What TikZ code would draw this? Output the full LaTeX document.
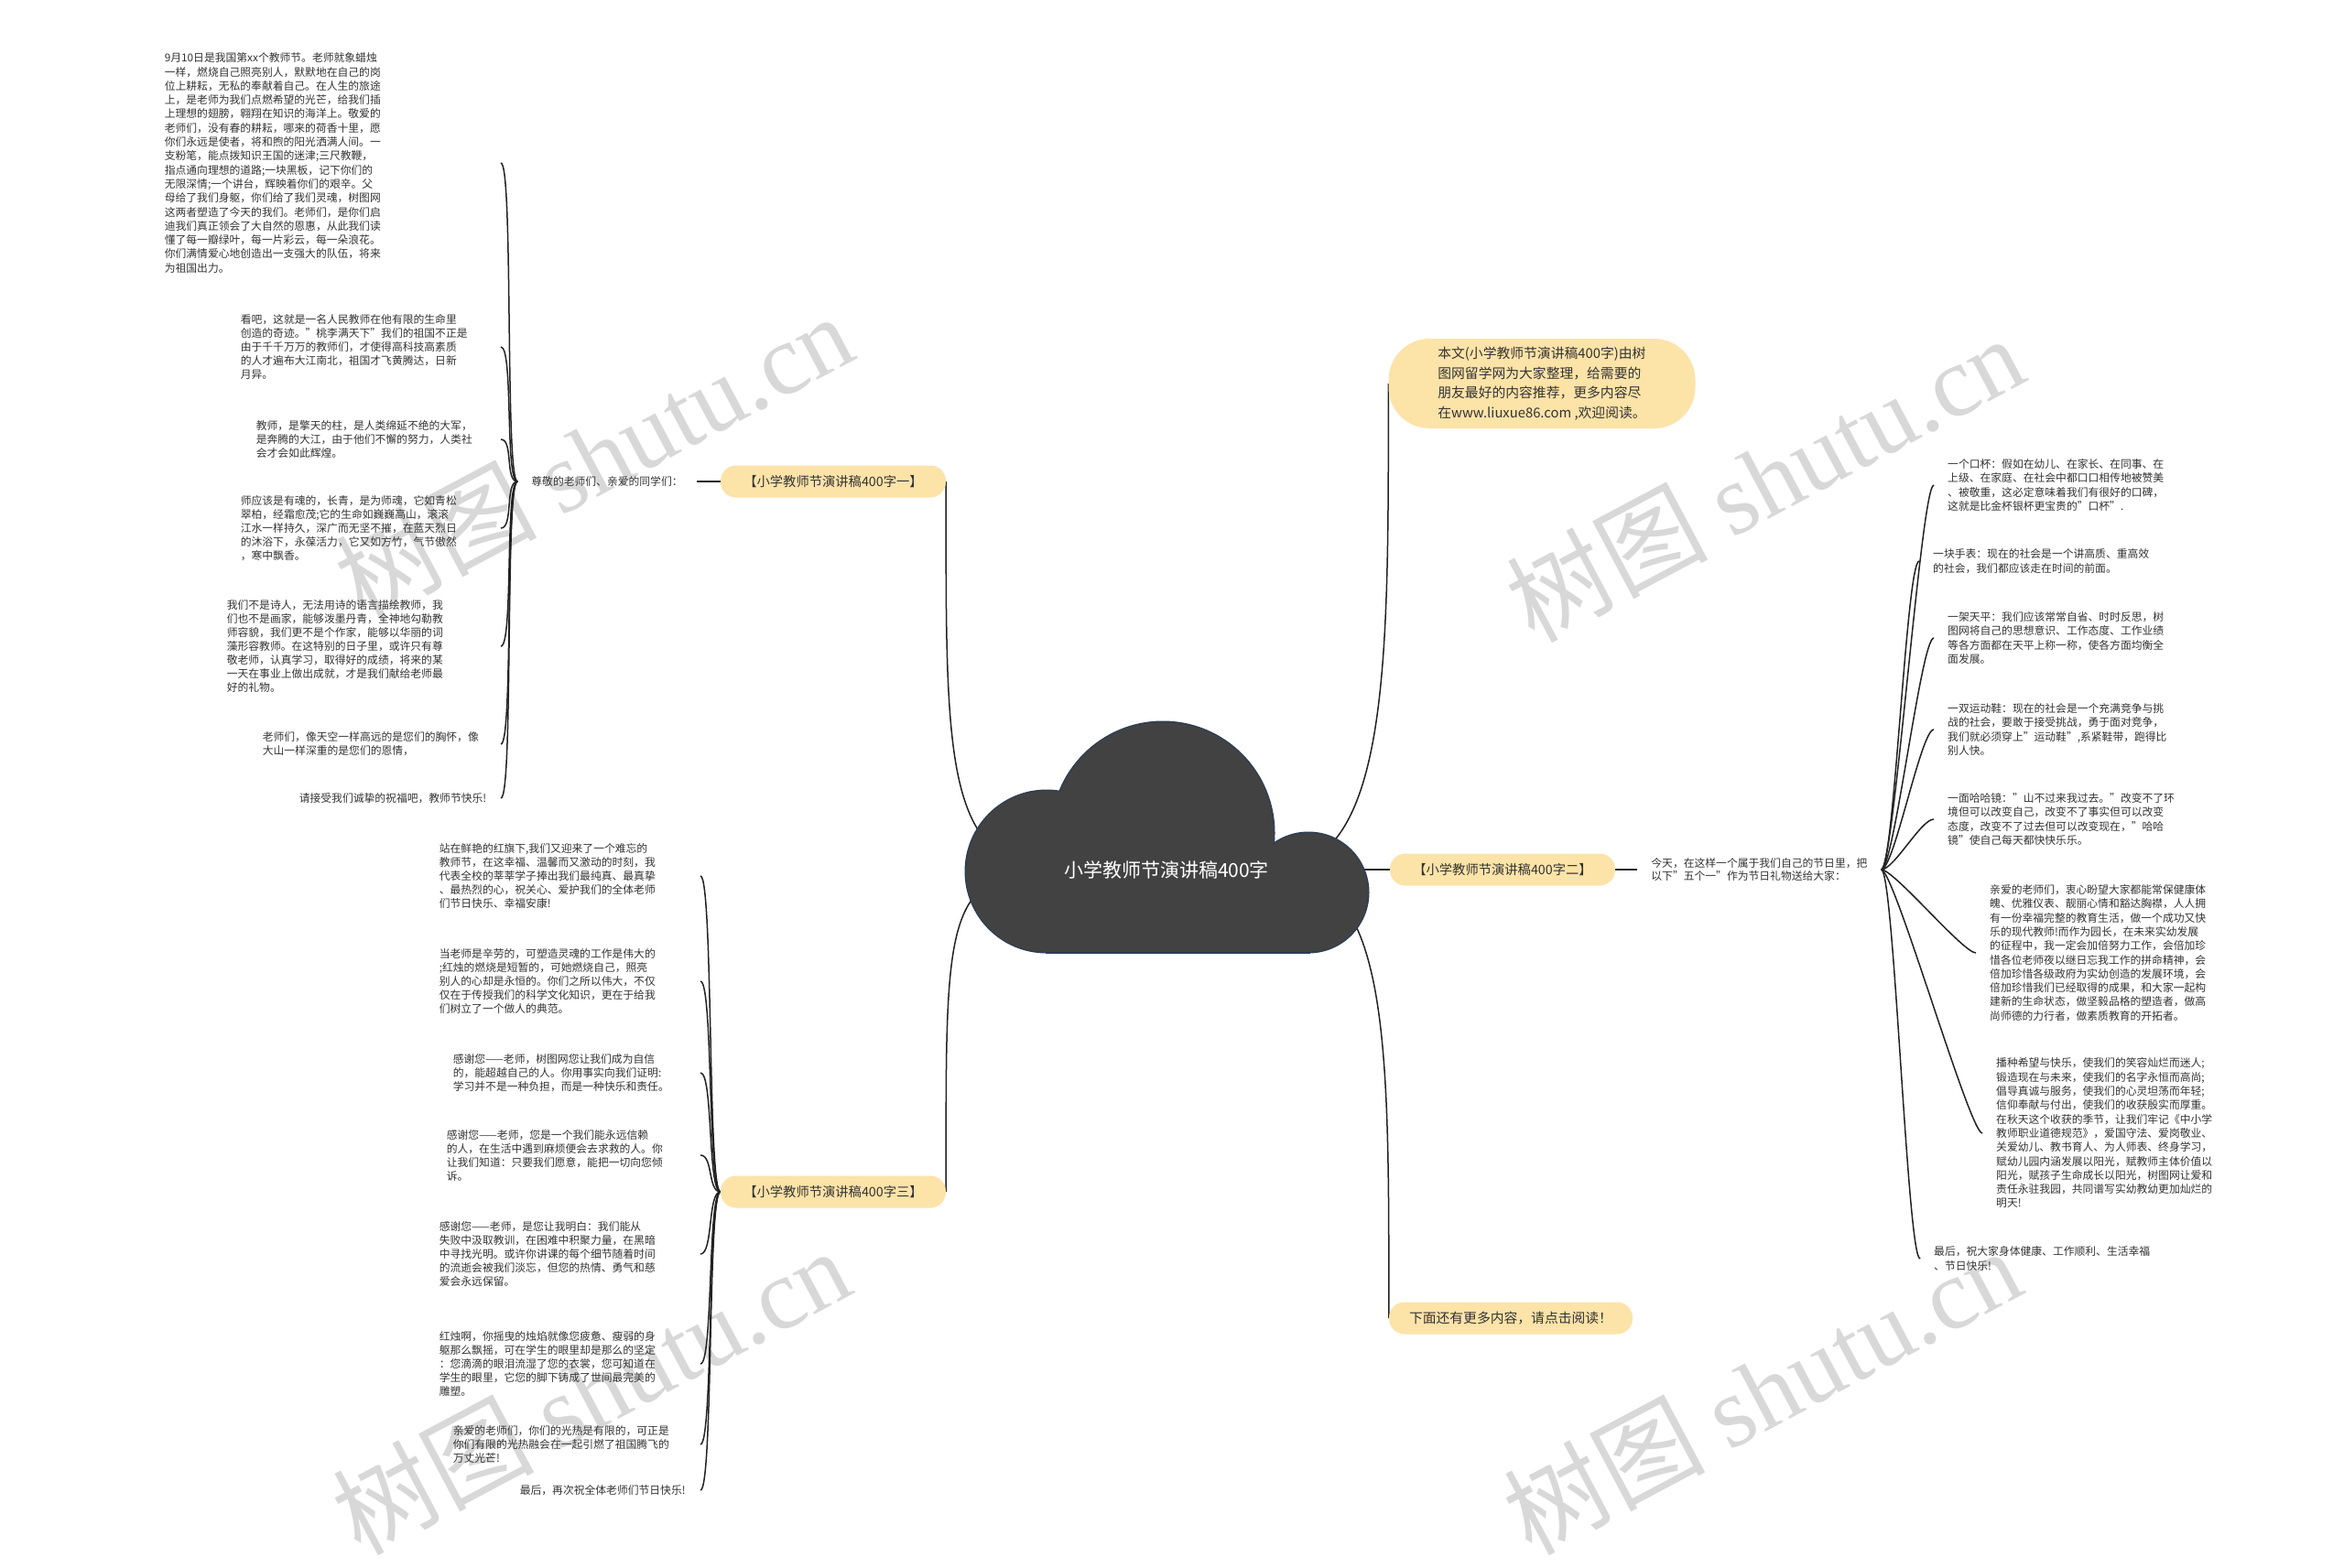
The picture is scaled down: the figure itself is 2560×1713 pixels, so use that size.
\documentclass[tikz,border=0pt]{standalone}
\usepackage{fontspec}
\setmainfont{Noto Sans CJK SC}
\newfontfamily\markserif{Liberation Serif}
\usetikzlibrary{positioning, backgrounds}
\definecolor{topicfill}{RGB}{252, 227, 168}
\definecolor{cloudfill}{RGB}{66, 66, 66}
\definecolor{cloudedge}{RGB}{45, 62, 84}
\definecolor{inkline}{RGB}{34, 34, 34}
\definecolor{bodytext}{RGB}{51, 51, 51}
\definecolor{markgray}{RGB}{216, 216, 216}

\begin{document}
\begin{tikzpicture}[
    x=1pt, y=-1pt,
    hubtext/.style={text=white, font=\fontsize{21}{25}\selectfont},
    topic/.style={fill=topicfill, rounded corners=17pt, minimum width=246pt, minimum height=35pt, inner sep=0pt, text=bodytext, font=\fontsize{14.3}{17}\selectfont},
    leaf/.style={align=left, inner xsep=15pt, inner ysep=2pt, text=bodytext, font=\fontsize{11.8}{15}\selectfont},
    link/.style={draw=inkline, line width=1.5pt},
    watermark/.style={text=markgray, rotate=28, font=\fontsize{110}{110}\selectfont}
]
\useasboundingbox (0,0) rectangle (2560,1713);

\node[hubtext] (hub) at (1274,950) {小学教师节演讲稿400字};

\node[topic] (speechA) at (910,526) {【小学教师节演讲稿400字一】};
\node[topic] (speechB) at (1641,950) {【小学教师节演讲稿400字二】};
\node[topic] (speechC) at (910,1302) {【小学教师节演讲稿400字三】};
\node[topic, rounded corners=45pt, minimum width=335pt, minimum height=98pt, align=left, font=\fontsize{14.8}{21.7}\selectfont] (note) at (1684,419) {本文(小学教师节演讲稿400字)由树\\图网留学网为大家整理，给需要的\\朋友最好的内容推荐，更多内容尽\\在www.liuxue86.com ,欢迎阅读。};
\node[topic, minimum width=266pt, font=\fontsize{14.8}{17}\selectfont] (more) at (1650,1440) {下面还有更多内容，请点击阅读！};

\node[leaf, left=26pt of speechA] (greeting) {尊敬的老师们、亲爱的同学们：};
\node[leaf, right=24pt of speechB, font=\fontsize{11.8}{14.3}\selectfont] (today) {今天，在这样一个属于我们自己的节日里，把\\以下"五个一"作为节日礼物送给大家：};

\node[leaf, anchor=east, text width=352pt, font=\fontsize{11.8}{15.3}\selectfont] (a1) at (547,178) {9月10日是我国第xx个教师节。老师就象蜡烛\\一样，燃烧自己照亮别人，默默地在自己的岗\\位上耕耘，无私的奉献着自己。在人生的旅途\\上，是老师为我们点燃希望的光芒，给我们插\\上理想的翅膀，翱翔在知识的海洋上。敬爱的\\老师们，没有春的耕耘，哪来的荷香十里，愿\\你们永远是使者，将和煦的阳光洒满人间。一\\支粉笔，能点拨知识王国的迷津;三尺教鞭，\\指点通向理想的道路;一块黑板，记下你们的\\无限深情;一个讲台，辉映着你们的艰辛。父\\母给了我们身躯，你们给了我们灵魂，树图网\\这两者塑造了今天的我们。老师们，是你们启\\迪我们真正领会了大自然的恩惠，从此我们读\\懂了每一瓣绿叶，每一片彩云，每一朵浪花。\\你们满情爱心地创造出一支强大的队伍，将来\\为祖国出力。};
\node[leaf, anchor=east, text width=269pt] (a2) at (547,379) {看吧，这就是一名人民教师在他有限的生命里\\创造的奇迹。"桃李满天下"我们的祖国不正是\\由于千千万万的教师们，才使得高科技高素质\\的人才遍布大江南北，祖国才飞黄腾达，日新\\月异。};
\node[leaf, anchor=east, text width=252pt] (a3) at (547,480) {教师，是擎天的柱，是人类绵延不绝的大军，\\是奔腾的大江，由于他们不懈的努力，人类社\\会才会如此辉煌。};
\node[leaf, anchor=east, text width=269pt] (a4) at (547,577) {师应该是有魂的，长青，是为师魂，它如青松\\翠柏，经霜愈茂;它的生命如巍巍高山，滚滚\\江水一样持久，深广而无坚不摧，在蓝天烈日\\的沐浴下，永葆活力，它又如方竹，气节傲然\\，寒中飘香。};
\node[leaf, anchor=east, text width=284pt] (a5) at (547,706) {我们不是诗人，无法用诗的语言描绘教师，我\\们也不是画家，能够泼墨丹青，全神地勾勒教\\师容貌，我们更不是个作家，能够以华丽的词\\藻形容教师。在这特别的日子里，或许只有尊\\敬老师，认真学习，取得好的成绩，将来的某\\一天在事业上做出成就，才是我们献给老师最\\好的礼物。};
\node[leaf, anchor=east, text width=245pt] (a6) at (547,813) {老师们，像天空一样高远的是您们的胸怀，像\\大山一样深重的是您们的恩情，};
\node[leaf, anchor=east, text width=205pt] (a7) at (547,872) {请接受我们诚挚的祝福吧，教师节快乐!};

\node[leaf, anchor=east, text width=270pt] (c1) at (765,957) {站在鲜艳的红旗下,我们又迎来了一个难忘的\\教师节，在这幸福、温馨而又激动的时刻，我\\代表全校的莘莘学子捧出我们最纯真、最真挚\\、最热烈的心，祝关心、爱护我们的全体老师\\们节日快乐、幸福安康!};
\node[leaf, anchor=east, text width=270pt] (c2) at (765,1072) {当老师是辛劳的，可塑造灵魂的工作是伟大的\\;红烛的燃烧是短暂的，可她燃烧自己，照亮\\别人的心却是永恒的。你们之所以伟大，不仅\\仅在于传授我们的科学文化知识，更在于给我\\们树立了一个做人的典范。};
\node[leaf, anchor=east, text width=255pt] (c3) at (765,1172) {感谢您——老师，树图网您让我们成为自信\\的，能超越自己的人。你用事实向我们证明:\\学习并不是一种负担，而是一种快乐和责任。};
\node[leaf, anchor=east, text width=262pt] (c4) at (765,1262) {感谢您——老师，您是一个我们能永远信赖\\的人，在生活中遇到麻烦便会去求救的人。你\\让我们知道：只要我们愿意，能把一切向您倾\\诉。};
\node[leaf, anchor=east, text width=270pt] (c5) at (765,1370) {感谢您——老师，是您让我明白：我们能从\\失败中汲取教训，在困难中积聚力量，在黑暗\\中寻找光明。或许你讲课的每个细节随着时间\\的流逝会被我们淡忘，但您的热情、勇气和慈\\爱会永远保留。};
\node[leaf, anchor=east, text width=270pt] (c6) at (765,1490) {红烛啊，你摇曳的烛焰就像您疲惫、瘦弱的身\\躯那么飘摇，可在学生的眼里却是那么的坚定\\：您滴滴的眼泪流湿了您的衣裳，您可知道在\\学生的眼里，它您的脚下铸成了世间最完美的\\雕塑。};
\node[leaf, anchor=east, text width=255pt] (c7) at (765,1578) {亲爱的老师们，你们的光热是有限的，可正是\\你们有限的光热融会在一起引燃了祖国腾飞的\\万丈光芒!};
\node[leaf, anchor=east, text width=182pt] (c8) at (765,1628) {最后，再次祝全体老师们节日快乐!};

\node[leaf, anchor=west, font=\fontsize{11.8}{15.3}\selectfont] (b1) at (2112,530) {一个口杯：假如在幼儿、在家长、在同事、在\\上级、在家庭、在社会中都口口相传地被赞美\\、被敬重，这必定意味着我们有很好的口碑，\\这就是比金杯银杯更宝贵的"口杯".};
\node[leaf, anchor=west, font=\fontsize{11.8}{15.3}\selectfont] (b2) at (2096,613) {一块手表：现在的社会是一个讲高质、重高效\\的社会，我们都应该走在时间的前面。};
\node[leaf, anchor=west, font=\fontsize{11.8}{15.3}\selectfont] (b3) at (2112,697) {一架天平：我们应该常常自省、时时反思，树\\图网将自己的思想意识、工作态度、工作业绩\\等各方面都在天平上称一称，使各方面均衡全\\面发展。};
\node[leaf, anchor=west, font=\fontsize{11.8}{15.3}\selectfont] (b4) at (2112,797) {一双运动鞋：现在的社会是一个充满竞争与挑\\战的社会，要敢于接受挑战，勇于面对竞争，\\我们就必须穿上"运动鞋",系紧鞋带，跑得比\\别人快。};
\node[leaf, anchor=west, font=\fontsize{11.8}{15.3}\selectfont] (b5) at (2112,895) {一面哈哈镜："山不过来我过去。"改变不了环\\境但可以改变自己，改变不了事实但可以改变\\态度，改变不了过去但可以改变现在，"哈哈\\镜"使自己每天都快快乐乐。};
\node[leaf, anchor=west, font=\fontsize{11.8}{15.3}\selectfont] (b6) at (2158,1041) {亲爱的老师们，衷心盼望大家都能常保健康体\\魄、优雅仪表、靓丽心情和豁达胸襟，人人拥\\有一份幸福完整的教育生活，做一个成功又快\\乐的现代教师!而作为园长，在未来实幼发展\\的征程中，我一定会加倍努力工作，会倍加珍\\惜各位老师夜以继日忘我工作的拼命精神，会\\倍加珍惜各级政府为实幼创造的发展环境，会\\倍加珍惜我们已经取得的成果，和大家一起构\\建新的生命状态，做坚毅品格的塑造者，做高\\尚师德的力行者，做素质教育的开拓者。};
\node[leaf, anchor=west, font=\fontsize{11.8}{15.3}\selectfont] (b7) at (2165,1238) {播种希望与快乐，使我们的笑容灿烂而迷人;\\锻造现在与未来，使我们的名字永恒而高尚;\\倡导真诚与服务，使我们的心灵坦荡而年轻;\\信仰奉献与付出，使我们的收获殷实而厚重。\\在秋天这个收获的季节，让我们牢记《中小学\\教师职业道德规范》，爱国守法、爱岗敬业、\\关爱幼儿、教书育人、为人师表、终身学习，\\赋幼儿园内涵发展以阳光，赋教师主体价值以\\阳光，赋孩子生命成长以阳光，树图网让爱和\\责任永驻我园，共同谱写实幼教幼更加灿烂的\\明天!};
\node[leaf, anchor=west, font=\fontsize{11.8}{15.3}\selectfont] (b8) at (2097,1375) {最后，祝大家身体健康、工作顺利、生活幸福\\、节日快乐!};

\begin{scope}[on background layer]
\fill[white] (0,0) rectangle (2560,1713);
\foreach \wx/\wy [count=\k] in {648/498, 1927/522, 645/1519, 1924/1519}
    \node[watermark] (wm\k) at (\wx,\wy) {树图 {\markserif shutu.cn}};

\draw[link] (hub.west) .. controls +(-130,0) and +(0,300) .. (speechA.east);
\draw[link] (hub.west) .. controls +(-130,0) and +(0,-300) .. (speechC.east);
\draw[link] (hub.east) -- (speechB.west);
\draw[link] (hub.east) .. controls +(130,0) and +(0,300) .. (note.west);
\draw[link] (hub.east) .. controls +(130,0) and +(0,-300) .. (more.west);
\draw[link] (speechA.west) -- (greeting.east);
\draw[link] (speechB.east) -- (today.west);
\foreach \i in {1,...,7}
    \draw[link] (greeting.west) .. controls +(-14,0) and +(14,0) .. (a\i.east);
\foreach \i in {1,...,8}
    \draw[link] (speechC.west) .. controls +(-14,0) and +(14,0) .. (c\i.east);
\foreach \i in {1,...,8}
    \draw[link] (today.east) .. controls +(14,0) and +(-14,0) .. (b\i.west);

\draw[cloudedge, line width=3pt] (1143,952) circle[radius=88];
\draw[cloudedge, line width=3pt] (1270,910) circle[radius=121];
\draw[cloudedge, line width=3pt] (1429,975) circle[radius=65];
\draw[cloudedge, line width=3pt] (1143,930) rectangle (1429,1040);
\fill[cloudfill] (1143,952) circle[radius=88];
\fill[cloudfill] (1270,910) circle[radius=121];
\fill[cloudfill] (1429,975) circle[radius=65];
\fill[cloudfill] (1143,930) rectangle (1429,1040);
\end{scope}

\end{tikzpicture}
\end{document}
